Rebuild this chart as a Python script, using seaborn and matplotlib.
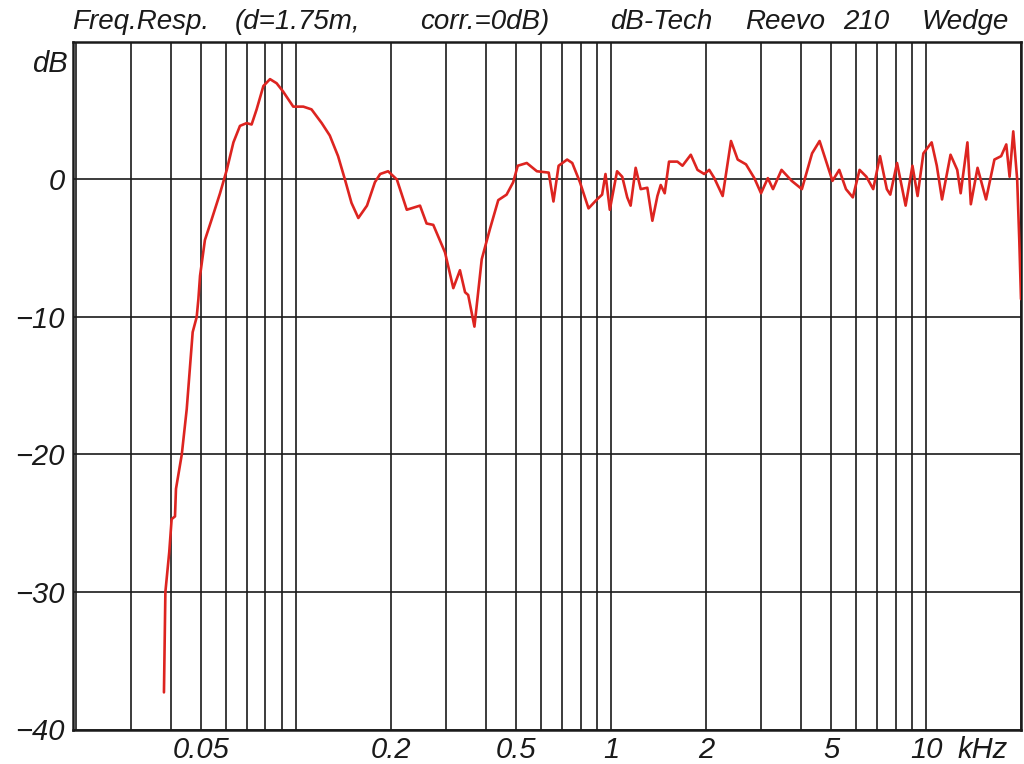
import matplotlib
matplotlib.use('Agg')
import matplotlib.pyplot as plt
import matplotlib.ticker as mticker
import numpy as np
import pandas as pd
import seaborn as sns

# frequency response (kHz, dB)
freq_khz = [0.0381, 0.0385, 0.0396, 0.0403, 0.0413, 0.0416, 0.0434, 0.0450, 0.0461, 0.0470,
            0.0484, 0.0490, 0.0496, 0.0514, 0.0540, 0.0574, 0.0603, 0.0633, 0.0664, 0.0697,
            0.0723, 0.0750, 0.0788, 0.0827, 0.0868, 0.0910, 0.0980, 0.1055, 0.112, 0.1207,
            0.128, 0.136, 0.143, 0.150, 0.1577, 0.168, 0.178, 0.185, 0.196, 0.209,
            0.2247, 0.2475, 0.2597, 0.2727, 0.2971, 0.3157, 0.3314, 0.344, 0.352, 0.3684,
            0.3886, 0.4126, 0.4385, 0.466, 0.489, 0.5056, 0.540, 0.5815, 0.634, 0.6563,
            0.6815, 0.7253, 0.7530, 0.7966, 0.8481, 0.9020, 0.9366, 0.960, 0.9908, 1.0447,
            1.085, 1.1254, 1.1536, 1.1968, 1.242, 1.3034, 1.3523, 1.403, 1.4374, 1.4798,
            1.5272, 1.6236, 1.685, 1.7906, 1.8806, 1.975, 2.049, 2.1265, 2.2602, 2.4022,
            2.5226, 2.681, 2.8488, 2.992, 3.1444, 3.2654, 3.4752, 3.7437, 4.0328, 4.344,
            4.5896, 4.7967, 5.042, 5.299, 5.5657, 5.851, 6.148, 6.4621, 6.7913, 7.138,
            7.502, 7.694, 8.084, 8.6065, 9.047, 9.393, 9.80, 10.41, 10.81, 11.23,
            11.95, 12.55, 12.87, 13.52, 13.86, 14.56, 15.49, 16.47, 17.3, 17.96,
            18.4, 18.9, 19.45, 19.75, 20.0]
level_db = [-37.3, -30.0, -27.1, -24.7, -24.5, -22.5, -20.0, -16.7, -13.6, -11.1,
            -10.0, -8.7, -7.0, -4.4, -2.9, -1.0, 0.7, 2.7, 3.9, 4.1,
            4.0, 5.1, 6.8, 7.3, 7.0, 6.4, 5.3, 5.3, 5.1, 4.1,
            3.2, 1.7, 0.0, -1.7, -2.8, -1.9, -0.2, 0.4, 0.6, 0.0,
            -2.2, -1.9, -3.2, -3.3, -5.3, -7.9, -6.6, -8.2, -8.4, -10.7,
            -5.8, -3.6, -1.5, -1.1, -0.2, 1.0, 1.2, 0.6, 0.5, -1.6,
            1.0, 1.45, 1.2, -0.2, -2.1, -1.45, -1.1, 0.4, -2.2, 0.6,
            0.2, -1.3, -1.9, 0.85, -0.7, -0.6, -3.0, -1.2, -0.4, -1.0,
            1.3, 1.3, 1.0, 1.8, 0.7, 0.4, 0.7, 0.1, -1.2, 2.8,
            1.45, 1.1, 0.1, -1.0, 0.1, -0.7, 0.7, -0.1, -0.7, 1.9,
            2.8, 1.45, -0.1, 0.7, -0.7, -1.3, 0.7, 0.2, -0.7, 1.7,
            -0.7, -1.1, 1.2, -1.9, 1.0, -1.2, 1.9, 2.7, 1.0, -1.45,
            1.8, 0.7, -1.0, 2.7, -1.8, 0.85, -1.45, 1.45, 1.7, 2.55,
            0.2, 3.5, 0.0, -4.4, -8.7]

xtick_vals = [0.05, 0.2, 0.5, 1, 2, 5, 10]
xtick_text = ['0.05', '0.2', '0.5', '1', '2', '5', '10']
ytick_vals = [-40, -30, -20, -10, 0]
ytick_text = ['\u221240', '\u221230', '\u221220', '\u221210', '0']

# title pieces, spread out like the plotter font in the original
title_parts = ['Freq.Resp.', '(d=1.75m,', 'corr.=0dB)', 'dB-Tech', 'Reevo', '210', 'Wedge']
title_x_px = [72, 235, 420, 610, 745, 843, 922]

sns.set_theme(style='white')
plt.rcParams['font.family'] = ['Liberation Sans', 'DejaVu Sans']
plt.rcParams['font.style'] = 'italic'

df = pd.DataFrame({'f': freq_khz, 'db': level_db})

W, H = 1024, 764
fig = plt.figure(figsize=(W / 100, H / 100), dpi=100)
ax = fig.add_axes([73 / W, 1 - 729.5 / H, (1021 - 73) / W, (729.5 - 42) / H])

sns.lineplot(data=df, x='f', y='db', color='#dd2420', linewidth=1.9,
             estimator=None, sort=False, ax=ax, zorder=3)

ax.set_xscale('log')
ax.set_xlim(0.0196, 20.0)
ax.set_ylim(-40, 10)

ax.set_xticks(xtick_vals)
ax.set_xticklabels(xtick_text)
ax.xaxis.set_minor_locator(mticker.LogLocator(base=10, subs=np.arange(1, 10), numticks=50))
ax.xaxis.set_minor_formatter(mticker.NullFormatter())
ax.set_yticks(ytick_vals)
ax.set_yticklabels(ytick_text)

ax.grid(True, which='both', axis='x', color='#1a1a1a', linewidth=1.2)
ax.grid(True, which='major', axis='y', color='#1a1a1a', linewidth=1.2)
ax.tick_params(which='both', length=0, labelsize=21, colors='#1a1a1a')
ax.tick_params(axis='y', pad=6)
ax.tick_params(axis='x', pad=5)
for lab in ax.get_xticklabels() + ax.get_yticklabels():
    lab.set_fontstyle('italic')

for s in ax.spines.values():
    s.set_color('#1a1a1a')
    s.set_linewidth(1.8)
    s.set_visible(True)

ax.set_xlabel('')
ax.set_ylabel('')

# unit labels
ax.text(-0.006, 8.4, 'dB', transform=ax.get_yaxis_transform(), ha='right', va='center',
        fontsize=21, style='italic', color='#1a1a1a')
fig.text(958 / W, 1 - 750 / H, 'kHz', ha='left', va='center', fontsize=21,
         style='italic', color='#1a1a1a')

for txt, xp in zip(title_parts, title_x_px):
    fig.text(xp / W, 1 - 29 / H, txt, ha='left', va='baseline', fontsize=20,
             style='italic', color='#1a1a1a')

plt.savefig('out.png', dpi=100)
